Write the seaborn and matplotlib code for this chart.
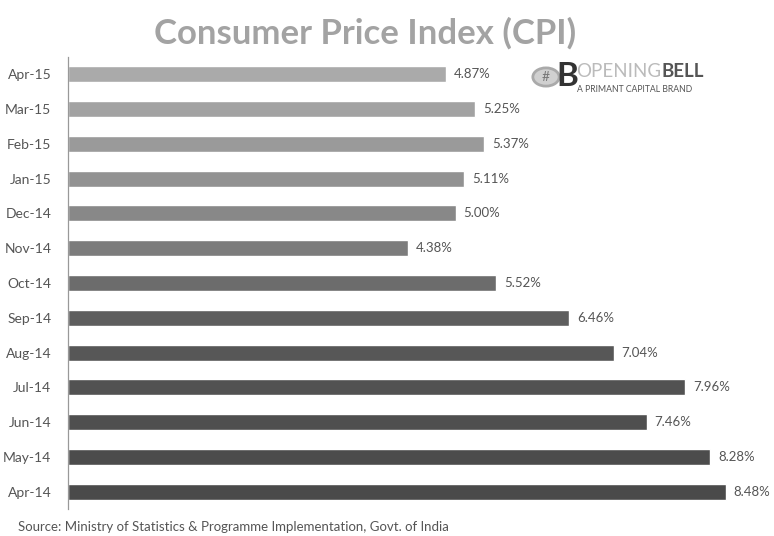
import matplotlib
matplotlib.use("Agg")
import matplotlib.pyplot as plt
from matplotlib.patches import Circle
import pandas as pd
import seaborn as sns

# CPI values, top bar first
months = ["Apr-15", "Mar-15", "Feb-15", "Jan-15", "Dec-14", "Nov-14", "Oct-14",
          "Sep-14", "Aug-14", "Jul-14", "Jun-14", "May-14", "Apr-14"]
cpi = [4.87, 5.25, 5.37, 5.11, 5.00, 4.38, 5.52, 6.46, 7.04, 7.96, 7.46, 8.28, 8.48]
value_labels = ["4.87%", "5.25%", "5.37%", "5.11%", "5.00%", "4.38%", "5.52%",
                "6.46%", "7.04%", "7.96%", "7.46%", "8.28%", "8.48%"]
bar_colors = ["#aaaaaa", "#a2a2a2", "#9a9a9a", "#929292", "#888888", "#7c7c7c", "#6c6c6c",
              "#5e5e5e", "#575757", "#525252", "#4f4f4f", "#4c4c4c", "#4a4a4a"]

df = pd.DataFrame({"month": months, "cpi": cpi})

sns.set_style("white")
plt.rcParams["font.family"] = ["Lato", "DejaVu Sans"]

fig = plt.figure(figsize=(7.74, 5.36), dpi=100)
ax = fig.add_axes([68 / 774, 27 / 536, 698 / 774, 452 / 536])

sns.barplot(data=df, x="cpi", y="month", hue="month", palette=bar_colors,
            legend=False, width=0.46, orient="h", ax=ax, saturation=1)

for i, v in enumerate(cpi):
    ax.text(v + 0.1, i, value_labels[i], va="center", ha="left",
            fontsize=9.5, color="#555555")

ax.set_xlim(0, 9)
ax.set_ylim(len(months) - 0.5, -0.5)
ax.set_xlabel("")
ax.set_ylabel("")
ax.set_xticks([])
for s in ["top", "right", "bottom"]:
    ax.spines[s].set_visible(False)
ax.spines["left"].set_color("#999999")
ax.spines["left"].set_linewidth(0.9)
ax.tick_params(axis="y", which="major", length=0, pad=12, labelsize=10, labelcolor="#555555")
ax.set_yticks([i + 0.5 for i in range(-1, len(months))], minor=True)
ax.tick_params(axis="y", which="minor", length=3, color="#999999", direction="out")

fig.text(365 / 774, 1 - 33 / 536, "Consumer Price Index (CPI)", ha="center", va="center",
         fontsize=25, fontweight="bold", color="#a3a3a3")
fig.text(18 / 774, 1 - 527 / 536,
         "Source: Ministry of Statistics & Programme Implementation, Govt. of India",
         ha="left", va="center", fontsize=9.5, color="#555555")

# logo
logo = Circle((546 / 774, 1 - 77 / 536), 0.017, transform=fig.transFigure,
              facecolor="#d0d0d0", edgecolor="#aaaaaa", linewidth=2)
fig.patches.append(logo)
fig.text(546 / 774, 1 - 77 / 536, "#", ha="center", va="center", fontsize=10, color="#777777")
fig.text(567 / 774, 1 - 77 / 536, "B", ha="center", va="center", fontsize=24,
         fontweight="bold", color="#333333")
opening = fig.text(576 / 774, 1 - 72 / 536, "OPENING", ha="left", va="center", fontsize=13.5,
                   color="#bbbbbb")
fig.canvas.draw()
bb = opening.get_window_extent(fig.canvas.get_renderer())
fig.text(bb.x1 / 774, 1 - 72 / 536, "BELL", ha="left", va="center", fontsize=13.5,
         fontweight="bold", color="#555555")
fig.text(577 / 774, 1 - 89 / 536, "A PRIMANT CAPITAL BRAND", ha="left", va="center",
         fontsize=6.2, color="#555555")

fig.savefig("out.png", dpi=100)
